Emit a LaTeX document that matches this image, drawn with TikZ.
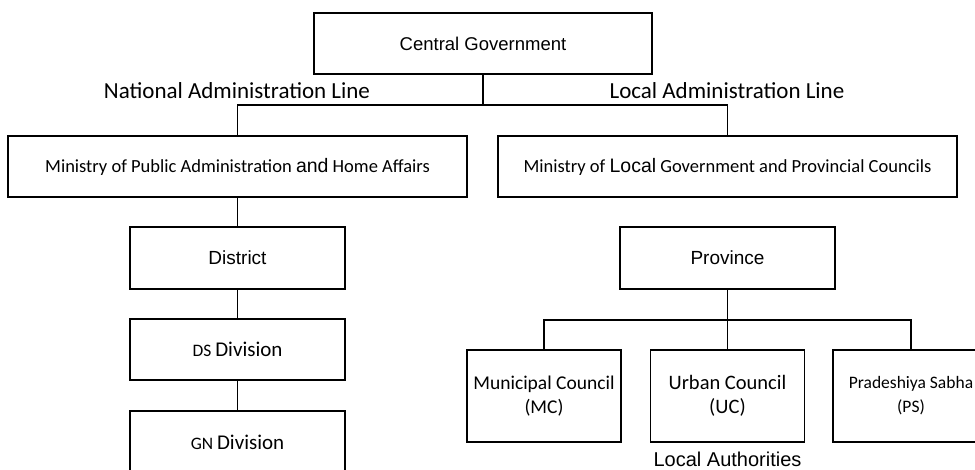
\documentclass[tikz,border=0pt]{standalone}
\usepackage{fontspec}
\setmainfont{Carlito}
\newfontfamily\arialf{Liberation Sans}
\begin{document}
\begin{tikzpicture}[x=1pt,y=-1pt,
  box/.style={draw=black,line width=1.3pt,fill=white,minimum width=#1,inner sep=0pt,align=center},
  box/.default=215pt,
  link/.style={draw=black,line width=1.3pt},
  lbl/.style={inner sep=0pt,align=center}]
\useasboundingbox (0,0) rectangle (975,469);
\clip (0,0) rectangle (975,469);

% top level
\node[box=338pt,minimum height=61pt,font=\arialf\fontsize{18.5}{22}\selectfont] (cg) at (483,43.5) {Central Government};
\node[lbl,font=\fontsize{23}{26}\selectfont] (nal) at (237,91) {National Administration Line};
\node[lbl,font=\fontsize{23}{26}\selectfont] (lal) at (727,91) {Local Administration Line};

% ministries
\node[box=459pt,minimum height=61pt,font=\fontsize{18.5}{22}\selectfont] (mpa) at (237.5,166.5)
  {Ministry of Public Administration {\arialf\fontsize{19.5}{22}\selectfont and} Home Affairs};
\node[box=459pt,minimum height=61pt,font=\fontsize{18.5}{22}\selectfont] (mlg) at (727.5,166.5)
  {Ministry of {\arialf\fontsize{19.5}{22}\selectfont Local} Government and Provincial Councils};

% national line
\node[box,minimum height=62pt,font=\arialf\fontsize{19}{22}\selectfont] (dist) at (237.5,258) {District};
\node[box,minimum height=61pt,font=\fontsize{17.5}{22}\selectfont] (ds) at (237.5,349.5) {DS {\fontsize{21}{22}\selectfont Division}};
\node[box,minimum height=62pt,font=\fontsize{17.5}{22}\selectfont] (gn) at (237.5,442) {GN {\fontsize{21}{22}\selectfont Division}};

% local line
\node[box,minimum height=62pt,font=\arialf\fontsize{19}{22}\selectfont] (prov) at (727.5,258) {Province};
\node[box=154pt,minimum height=92pt,font=\fontsize{19.5}{24}\selectfont] (mc) at (544,396) {Municipal Council\\(MC)};
\node[box=154pt,minimum height=92pt,font=\fontsize{20.5}{24}\selectfont] (uc) at (727.5,396) {Urban Council\\(UC)};
\node[box=156pt,minimum height=92pt,font=\fontsize{17.5}{24}\selectfont] (ps) at (911,396) {Pradeshiya Sabha\\(PS)};
\node[lbl,font=\arialf\fontsize{20}{22}\selectfont] (la) at (727.5,459) {Local Authorities};

% connectors
\coordinate (topbus) at (483,105);
\coordinate (lowbus) at (727.5,320);
\draw[link] (cg.south) -- (topbus);
\draw[link] (mpa.north) |- (topbus) -| (mlg.north);
\draw[link] (mpa.south) -- (dist.north);
\draw[link] (dist.south) -- (ds.north);
\draw[link] (ds.south) -- (gn.north);
\draw[link] (prov.south) -- (lowbus);
\draw[link] (mc.north) |- (lowbus) -| (ps.north);
\draw[link] (lowbus) -- (uc.north);
\end{tikzpicture}
\end{document}
